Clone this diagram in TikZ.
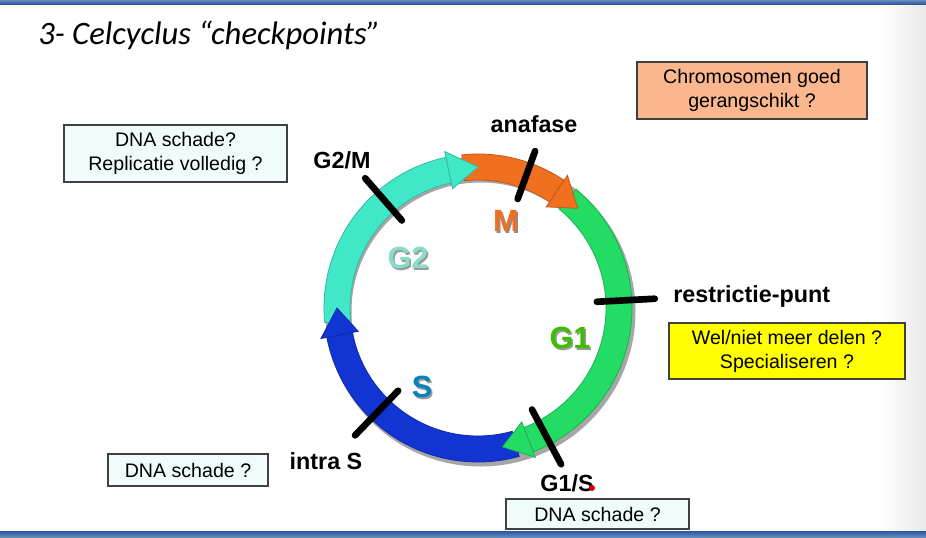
\documentclass[tikz,border=0pt]{standalone}
\usepackage{fontspec}
\setmainfont{Liberation Sans}
\newfontfamily\titlefont{Carlito}
\usetikzlibrary{calc}
\definecolor{cM}{RGB}{240,112,32}
\definecolor{cGone}{RGB}{34,220,100}
\definecolor{cS}{RGB}{18,52,210}
\definecolor{cGtwo}{RGB}{64,232,200}
\definecolor{boxcyan}{RGB}{240,252,252}
\definecolor{boxorange}{RGB}{250,182,140}
\definecolor{boxyellow}{RGB}{255,255,0}
\definecolor{band}{RGB}{40,88,160}
\newcommand{\ringseg}[3]{\fill[#1,draw=#1!80!black,line width=0.6pt] (#2:154) arc[start angle=#2,end angle=#3,radius=154] -- (#3:128) arc[start angle=#3,end angle=#2,radius=128] -- cycle;}
\newcommand{\ringhead}[3]{\fill[#1,draw=#1!80!black,line width=0.6pt] (#2:160) -- (#3:141) -- (#2:122) -- cycle;}
\tikzset{
  qbox/.style={draw=black!75,line width=0.8pt,align=center,inner sep=0pt,
    font=\fontsize{14.7}{18}\selectfont},
  cplabel/.style={font=\bfseries\fontsize{17.5}{20}\selectfont,inner sep=0pt},
  phase/.style={font=\bfseries\fontsize{23}{26}\selectfont,inner sep=0pt},
  bar/.style={line width=5pt,line cap=round,black}
}
\begin{document}
\begin{tikzpicture}[x=0.75pt,y=-0.75pt]
\useasboundingbox (0,0) rectangle (926,537);
\fill[white] (0,0) rectangle (926,537);
\shade[left color=white,right color=black!9] (880,0) rectangle (926,537);
\shade[top color=band!70,bottom color=band] (0,0) rectangle (926,4);
\shade[top color=band,bottom color=band!70] (0,531) rectangle (926,537);
% title
\node[anchor=west,inner sep=0pt,font=\titlefont\itshape\fontsize{24.5}{29}\selectfont] (title) at (38,35) {3- Celcyclus “checkpoints”};
% ring
\begin{scope}[shift={(478,308)},yscale=-1]
  \fill[black,opacity=0.35,even odd rule] (2.5,-3.5) circle (155) (2.5,-3.5) circle (129);
  \ringseg{cGtwo}{185.5}{102}
  \ringseg{cM}{96}{56}
  \ringseg{cGone}{50.5}{-69}
  \ringseg{cS}{-74.5}{-169}
  \ringhead{cGtwo}{102}{90}
  \ringhead{cM}{56}{45}
  \ringhead{cGone}{-69}{-80}
  \ringhead{cS}{-169}{-180}
  \draw[bar] (131:116) -- (131:172);
  \draw[bar] (70:116) -- (70:167);
  \draw[bar] (3:119) -- (3:177);
  \draw[bar] (-62:115) -- (-62:177);
  \draw[bar] (-134:115) -- (-134:177);
\end{scope}
% phase labels
\node[phase,text=black!45] (Msh) at (507.5,222.5) {M};
\node[phase,text=cM] (M) at (506,221) {M};
\node[phase,text=black!40] (G2sh) at (409.5,259.5) {G2};
\node[phase,text=cGtwo!85!black!60!white] (G2) at (408,258) {G2};
\node[phase,text=black!40] (G1sh) at (571.5,339.5) {G1};
\node[phase,text=green!60!lime!75!black] (G1) at (570,338) {G1};
\node[phase,text=black!40] (Ssh) at (423.5,388.5) {S};
\node[phase,text=cS!45!cyan!80!black] (S) at (422,387) {S};
% checkpoint labels
\node[cplabel] (anafase) at (534,124) {anafase};
\node[cplabel] (g2m) at (342,160) {G2/M};
\node[cplabel,anchor=west] (rp) at (673,296) {restrictie-punt};
\node[cplabel] (g1s) at (567,483) {G1/S};
\fill[red!85!black] (592,488) circle (3);
\node[cplabel] (intras) at (326,461) {intra S};
% boxes
\node[qbox,fill=boxcyan,minimum width=167.25pt,minimum height=42.75pt] (b1) at (175.5,153.5) {DNA schade?\\Replicatie volledig ?};
\node[qbox,fill=boxorange,minimum width=172.5pt,minimum height=42.75pt] (b2) at (752,90.5) {Chromosomen goed\\gerangschikt ?};
\node[qbox,fill=boxyellow,minimum width=177pt,minimum height=42pt] (b3) at (787,351) {Wel/niet meer delen ?\\Specialiseren ?};
\node[qbox,fill=boxcyan,minimum width=120pt,minimum height=24pt] (b4) at (188,470) {DNA schade ?};
\node[qbox,fill=boxcyan,minimum width=137.25pt,minimum height=22.5pt] (b5) at (597.5,514) {DNA schade ?};
\end{tikzpicture}
\end{document}
